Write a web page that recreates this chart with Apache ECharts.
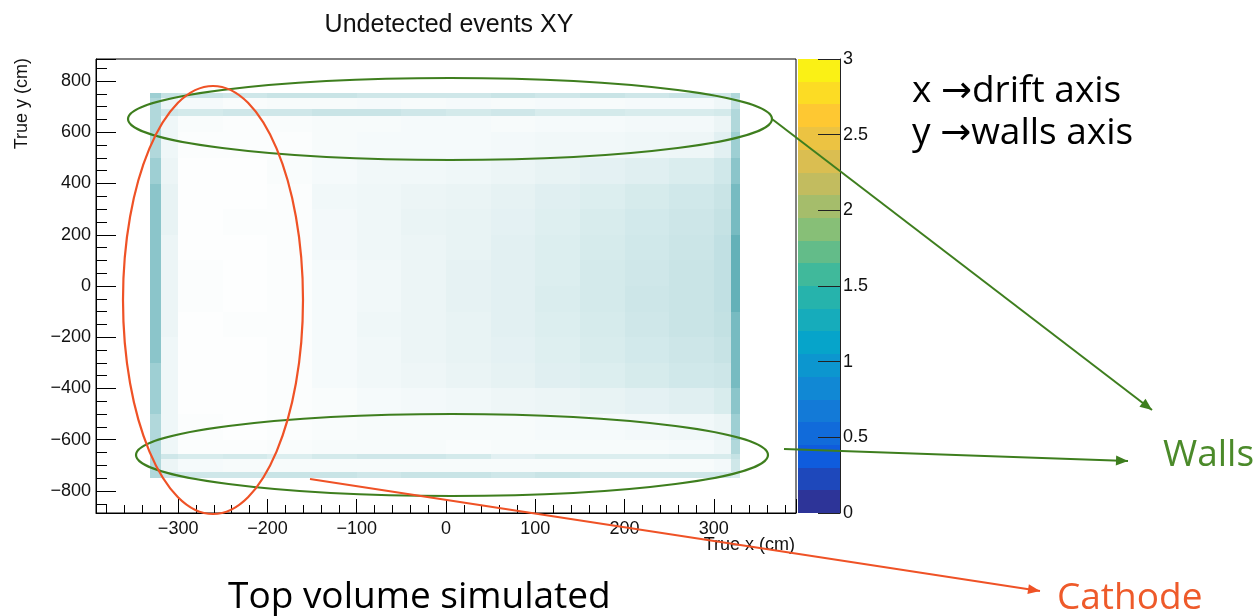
<!DOCTYPE html>
<html>
<head>
<meta charset="utf-8">
<title>Undetected events XY</title>
<script src="https://cdn.jsdelivr.net/npm/echarts@6/dist/echarts.min.js"></script>
<style>
html, body { margin: 0; padding: 0; background: #fff; }
#chart { width: 1258px; height: 616px; }
</style>
</head>
<body>
<div id="chart"></div>
<script>
// bin edges of the (coarse) density map, in cm
var xEdges = [-331, -319, -300, -250, -200, -150, -100, -50, 0, 50, 100, 150, 200, 250, 300, 319, 329];
var yEdges = [755, 735, 690, 665, 600, 500, 400, 300, 200, 100, 0, -100, -200, -300, -400, -500, -600, -655, -675, -725, -748];

// relative event density per bin, rows top -> bottom
var density = [
	[5, 3.0, 2.8, 2.5, 2.8, 2.8, 2.5, 2.5, 2.5, 2.8, 2.5, 2.8, 2.5, 2.8, 2.5, 4],
	[4, 1.0, 0.5, 0.3, 0.4, 0.4, 0.5, 0.4, 0.5, 0.4, 0.5, 0.4, 0.5, 0.5, 0.8, 3],
	[4, 2.5, 2.2, 2.5, 2.5, 2.8, 2.8, 2.5, 2.2, 2.5, 2.0, 2.2, 2.0, 2.0, 2.2, 4],
	[4, 0.8, 0.3, 0.2, 0.3, 0.4, 0.4, 0.5, 0.5, 0.4, 0.5, 0.5, 0.6, 0.6, 1.0, 4],
	[4, 0.8, 0.2, 0.2, 0.2, 0.4, 0.5, 0.5, 0.5, 0.6, 0.7, 0.7, 0.8, 0.9, 1.5, 5],
	[5, 1.0, 0.1, 0.1, 0.3, 0.5, 0.7, 0.7, 0.8, 1.0, 1.2, 1.4, 1.6, 1.9, 2.4, 6],
	[6, 1.2, 0.1, 0.1, 0.2, 0.7, 0.8, 1.0, 1.1, 1.3, 1.6, 1.8, 2.1, 2.4, 2.8, 7],
	[6, 1.2, 0.1, 0.2, 0.2, 0.6, 0.8, 1.1, 1.2, 1.4, 1.7, 2.0, 2.3, 2.6, 3.0, 7],
	[6, 1.0, 0.1, 0.1, 0.2, 0.6, 0.8, 1.0, 1.2, 1.5, 1.8, 2.1, 2.4, 2.7, 3.2, 8],
	[6, 1.0, 0.2, 0.1, 0.2, 0.5, 0.7, 1.0, 1.3, 1.5, 1.8, 2.2, 2.5, 2.8, 3.2, 8],
	[6, 1.0, 0.2, 0.1, 0.2, 0.5, 0.7, 1.0, 1.3, 1.5, 1.9, 2.2, 2.6, 2.8, 3.2, 8],
	[6, 1.0, 0.1, 0.2, 0.2, 0.5, 0.8, 1.0, 1.2, 1.5, 1.8, 2.1, 2.5, 2.8, 3.1, 7],
	[6, 0.8, 0.1, 0.1, 0.2, 0.5, 0.7, 1.0, 1.2, 1.4, 1.7, 2.0, 2.3, 2.6, 2.9, 7],
	[5, 0.8, 0.1, 0.1, 0.2, 0.5, 0.7, 0.9, 1.1, 1.3, 1.6, 1.8, 2.1, 2.4, 2.6, 7],
	[5, 0.8, 0.1, 0.1, 0.2, 0.3, 0.5, 0.6, 0.7, 0.9, 1.0, 1.2, 1.4, 1.6, 2.0, 6],
	[4, 0.8, 0.2, 0.1, 0.2, 0.3, 0.4, 0.4, 0.4, 0.4, 0.5, 0.5, 0.6, 0.7, 1.0, 5],
	[4, 0.8, 0.2, 0.2, 0.3, 0.4, 0.4, 0.4, 0.3, 0.4, 0.4, 0.4, 0.4, 0.5, 0.8, 4],
	[4, 2.5, 2.0, 2.2, 1.8, 2.2, 2.5, 2.5, 2.2, 1.5, 1.8, 1.8, 1.8, 2.0, 2.0, 3],
	[4, 1.0, 0.5, 0.4, 0.4, 0.4, 0.4, 0.4, 0.4, 0.4, 0.4, 0.4, 0.4, 0.4, 0.6, 2.5],
	[4, 2.8, 2.5, 2.5, 2.8, 2.8, 2.5, 2.8, 2.8, 2.5, 2.8, 2.5, 2.5, 2.5, 2.5, 2]
];

// palette contour levels (z axis)
var zLevels = [0, 0.15, 0.3, 0.45, 0.6, 0.75, 0.9, 1.05, 1.2, 1.35, 1.5, 1.65, 1.8, 1.95, 2.1, 2.25, 2.4, 2.55, 2.7, 2.85, 3];
// ROOT kBird palette stops
var birdColors = ['#352a87', '#0f5cdd', '#1481d6', '#06a4ca', '#2eb7a4', '#87bf77', '#d1bb59', '#fec832', '#f9fb0e'];

var cells = [];
for (var r = 0; r < density.length; r++) {
	for (var c = 0; c < density[r].length; c++) {
		cells.push([xEdges[c], xEdges[c + 1], yEdges[r + 1], yEdges[r], density[r][c]]);
	}
}
var bands = [];
for (var i = 0; i < zLevels.length - 1; i++) {
	bands.push([0, 1, zLevels[i], zLevels[i + 1], (zLevels[i] + zLevels[i + 1]) / 2]);
}

function renderRect(params, api) {
	var p0 = api.coord([api.value(0), api.value(3)]);
	var p1 = api.coord([api.value(1), api.value(2)]);
	var x0 = Math.round(p0[0]), y0 = Math.round(p0[1]);
	var x1 = Math.round(p1[0]), y1 = Math.round(p1[1]);
	return {
		type: 'rect',
		shape: { x: x0, y: y0, width: x1 - x0, height: y1 - y0 },
		style: { fill: api.visual('color') }
	};
}

function minus(v) { return String(v).replace('-', '\u2212'); }

function arrowHead(x1, y1, x2, y2, len, half) {
	var a = Math.atan2(y2 - y1, x2 - x1);
	var c = Math.cos(a), s = Math.sin(a);
	return [[x2, y2],
		[x2 - len * c + half * s, y2 - len * s - half * c],
		[x2 - len * c - half * s, y2 - len * s + half * c]];
}

var green = '#3e7e1e', red = '#ef5226';
var rootFont = 'Liberation Sans, Arial, Helvetica, sans-serif';
var slideFont = 'Open Sans, Noto Sans, DejaVu Sans, sans-serif';

function arrow(x1, y1, x2, y2, color) {
	return [
		{ type: 'line', z: 100, shape: { x1: x1, y1: y1, x2: x2, y2: y2 }, style: { stroke: color, lineWidth: 2 } },
		{ type: 'polygon', z: 100, shape: { points: arrowHead(x1, y1, x2, y2, 12, 5) }, style: { fill: color } }
	];
}

var myChart = echarts.init(document.getElementById('chart'), null, { renderer: 'canvas' });

var graphics = [
	{ type: 'text', z: 100, rotation: Math.PI / 2, x: 22, y: 58,
		style: { text: 'True y (cm)', fill: '#111', font: '18px ' + rootFont, textAlign: 'right', textVerticalAlign: 'middle' } },
	{ type: 'text', z: 100, x: 795, y: 545,
		style: { text: 'True x (cm)', fill: '#111', font: '18px ' + rootFont, textAlign: 'right', textVerticalAlign: 'middle' } },
	{ type: 'ellipse', z: 100, shape: { cx: 450, cy: 119, rx: 322, ry: 41 }, style: { fill: 'none', stroke: green, lineWidth: 2.2 } },
	{ type: 'ellipse', z: 100, shape: { cx: 452, cy: 455, rx: 316, ry: 41 }, style: { fill: 'none', stroke: green, lineWidth: 2.2 } },
	{ type: 'ellipse', z: 100, shape: { cx: 213, cy: 300, rx: 90, ry: 214 }, style: { fill: 'none', stroke: red, lineWidth: 2.2 } },
	{ type: 'text', z: 100, x: 912, y: 91,
		style: { text: 'x \u2192drift axis', fill: '#000', font: '37px ' + slideFont, textVerticalAlign: 'middle' } },
	{ type: 'text', z: 100, x: 912, y: 133,
		style: { text: 'y \u2192walls axis', fill: '#000', font: '37px ' + slideFont, textVerticalAlign: 'middle' } },
	{ type: 'text', z: 100, x: 1163, y: 455,
		style: { text: 'Walls', fill: '#4b8a2a', font: '37px ' + slideFont, textVerticalAlign: 'middle' } },
	{ type: 'text', z: 100, x: 1057, y: 598,
		style: { text: 'Cathode', fill: '#ee5a2a', font: '37px ' + slideFont, textVerticalAlign: 'middle' } },
	{ type: 'text', z: 100, x: 228, y: 597,
		style: { text: 'Top volume simulated', fill: '#000', font: '37px ' + slideFont, textVerticalAlign: 'middle' } }
]
	.concat(arrow(772, 119, 1152, 410, green))
	.concat(arrow(784, 449, 1128, 461, green))
	.concat(arrow(310, 479, 1040, 591, red));

var option = {
	backgroundColor: '#fff',
	animation: false,
	title: {
		text: 'Undetected events XY',
		left: 444, top: 8, textAlign: 'center',
		textStyle: { fontFamily: rootFont, fontSize: 25, fontWeight: 'normal', color: '#111' }
	},
	grid: [
		{ left: 96, right: 462, top: 59, bottom: 103, show: true, borderColor: '#000', borderWidth: 1, backgroundColor: '#fff' },
		{ left: 798, right: 418, top: 59, bottom: 103 }
	],
	xAxis: [
		{
			type: 'value', gridIndex: 0, min: -392, max: 392, splitNumber: 8, z: 10,
			axisLine: { onZero: false, lineStyle: { color: '#000' } },
			axisTick: { inside: true, length: 14, lineStyle: { color: '#000' } },
			minorTick: { show: true, splitNumber: 5, length: 8, lineStyle: { color: '#000' } },
			splitLine: { show: false },
			axisLabel: { showMinLabel: false, showMaxLabel: false, margin: 7, fontSize: 18, fontFamily: rootFont, color: '#111', formatter: minus }
		},
		{ type: 'value', gridIndex: 1, min: 0, max: 1, show: false }
	],
	yAxis: [
		{
			type: 'value', gridIndex: 0, min: -886, max: 886, splitNumber: 9, z: 10,
			axisLine: { onZero: false, lineStyle: { color: '#000' } },
			axisTick: { inside: true, length: 20, lineStyle: { color: '#000' } },
			minorTick: { show: true, splitNumber: 4, length: 11, lineStyle: { color: '#000' } },
			splitLine: { show: false },
			axisLabel: { showMinLabel: false, showMaxLabel: false, margin: 5, fontSize: 18, fontFamily: rootFont, color: '#111', formatter: minus }
		},
		{
			type: 'value', gridIndex: 1, min: 0, max: 3, interval: 0.5, position: 'right', z: 10,
			axisLine: { show: true, onZero: false, lineStyle: { color: '#222' } },
			axisTick: { inside: true, length: 22, lineStyle: { color: '#222' } },
			splitLine: { show: false },
			axisLabel: { margin: 3, fontSize: 18, fontFamily: rootFont, color: '#111' }
		}
	],
	visualMap: [
		{ type: 'continuous', show: false, seriesIndex: 0, dimension: 4, min: 0, max: 10,
			inRange: { color: ['#ffffff', '#3d9ea6'] } },
		{ type: 'continuous', show: false, seriesIndex: 1, dimension: 4, min: 0, max: 3,
			inRange: { color: birdColors } }
	],
	series: [
		{ type: 'custom', xAxisIndex: 0, yAxisIndex: 0, renderItem: renderRect, data: cells,
			encode: { x: [0, 1], y: [2, 3] }, clip: true },
		{ type: 'custom', xAxisIndex: 1, yAxisIndex: 1, renderItem: renderRect, data: bands,
			encode: { x: [0, 1], y: [2, 3] } }
	],
	graphic: graphics
};

myChart.setOption(option, true);
</script>
</body>
</html>
